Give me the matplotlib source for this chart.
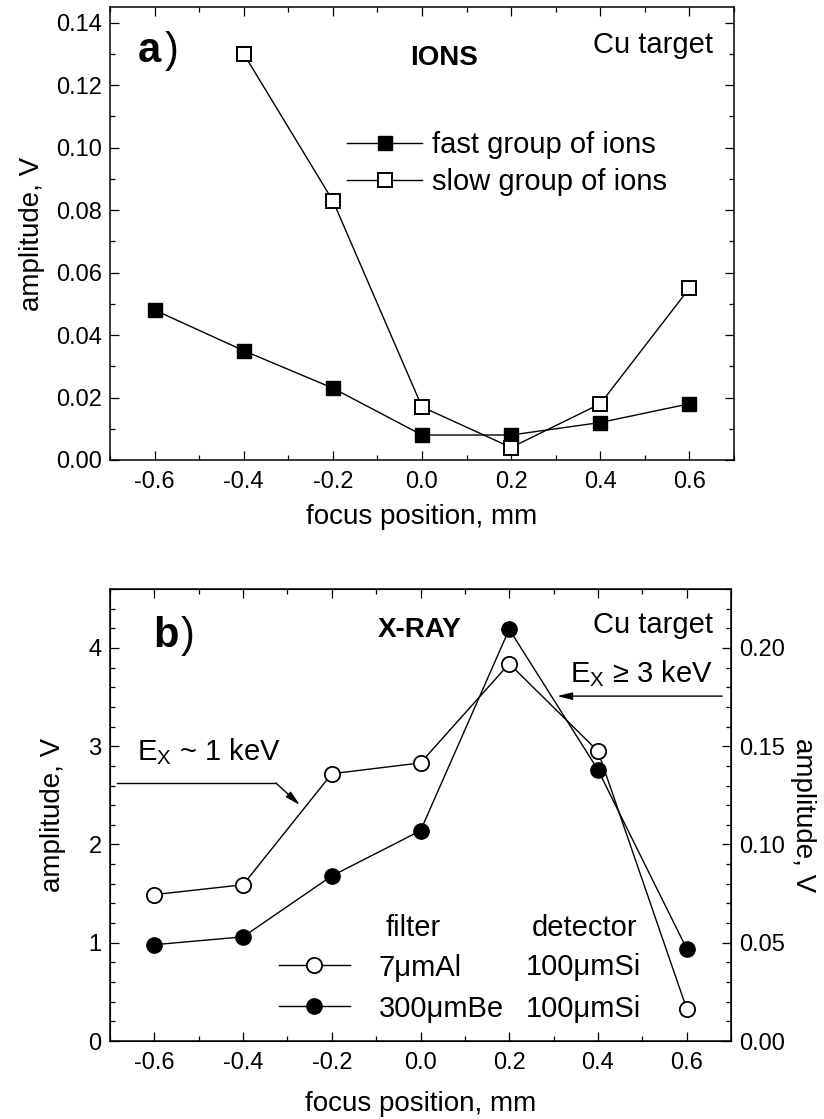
import matplotlib
matplotlib.use("Agg")
import matplotlib.pyplot as plt
from matplotlib.ticker import MultipleLocator, FormatStrFormatter

plt.rcParams['font.family'] = ['Liberation Sans', 'DejaVu Sans']
plt.rcParams['mathtext.fontset'] = 'custom'
plt.rcParams['mathtext.rm'] = 'Liberation Sans'
plt.rcParams['axes.unicode_minus'] = False

# panel a) ions
focus = [-0.6, -0.4, -0.2, 0.0, 0.2, 0.4, 0.6]
fast_ions = [0.048, 0.035, 0.023, 0.008, 0.008, 0.012, 0.018]
focus_slow = [-0.4, -0.2, 0.0, 0.2, 0.4, 0.6]
slow_ions = [0.130, 0.083, 0.017, 0.004, 0.018, 0.055]

# panel b) x-ray (left scale, V)
xray_al = [1.49, 1.59, 2.72, 2.83, 3.84, 2.95, 0.33]
xray_be = [0.98, 1.06, 1.68, 2.14, 4.19, 2.76, 0.94]

TXT = 21
TICK = 17


def style_axis(ax, top=True, right=True):
    ax.tick_params(which='both', direction='in', top=top, right=right,
                   labelsize=TICK, width=0.9)
    ax.tick_params(which='major', length=6.5)
    ax.tick_params(which='minor', length=3.3)
    ax.tick_params(axis='x', pad=8)
    ax.tick_params(axis='y', pad=6)
    for s in ax.spines.values():
        s.set_linewidth(1.1)


fig = plt.figure(figsize=(8.24, 11.19), dpi=100)

# ---------- a) ----------
ax1 = fig.add_axes([110/824, (1119-460)/1119, 624/824, 453/1119])
ax1.plot(focus, fast_ions, 'k-', lw=1, marker='s', ms=10, mfc='k', mec='k',
         label='fast group of ions')
ax1.plot(focus_slow, slow_ions, 'k-', lw=1, marker='s', ms=10, mfc='white',
         mec='k', mew=1.4, label='slow group of ions')
ax1.set_xlim(-0.7, 0.7)
ax1.set_ylim(0, 0.145)
ax1.xaxis.set_major_locator(MultipleLocator(0.2))
ax1.xaxis.set_minor_locator(MultipleLocator(0.1))
ax1.yaxis.set_major_locator(MultipleLocator(0.02))
ax1.yaxis.set_minor_locator(MultipleLocator(0.01))
ax1.xaxis.set_major_formatter(FormatStrFormatter('%.1f'))
ax1.yaxis.set_major_formatter(FormatStrFormatter('%.2f'))
style_axis(ax1)
ax1.set_xlabel('focus position, mm', fontsize=20, labelpad=8)
ax1.set_ylabel('amplitude, V', fontsize=20, labelpad=8)

ax1.text(-0.637, 0.1273, 'a', fontsize=30, fontweight='bold')
ax1.text(-0.578, 0.1273, ')', fontsize=30)
ax1.text(-0.027, 0.1263, 'IONS', fontsize=20, fontweight='bold')
ax1.text(0.653, 0.1302, 'Cu target', fontsize=TXT, ha='right')

ax1.legend(loc='center left', bbox_to_anchor=(0.38, 0.6545), frameon=False,
           fontsize=TXT, handlelength=2.57, handletextpad=0.34,
           labelspacing=0.3, borderpad=0, borderaxespad=0, numpoints=1)

# ---------- b) ----------
ax2 = fig.add_axes([110/824, (1119-1041)/1119, 621/824, 452/1119])
h_al, = ax2.plot(focus, xray_al, 'k-', lw=1, marker='o', ms=11, mfc='white',
                 mec='k', mew=1.3, label='7\u03bcmAl')
h_be, = ax2.plot(focus, xray_be, 'k-', lw=1, marker='o', ms=11, mfc='k',
                 mec='k', label='300\u03bcmBe')
ax2.set_xlim(-0.7, 0.7)
ax2.set_ylim(0, 4.6)
ax2.xaxis.set_major_locator(MultipleLocator(0.2))
ax2.xaxis.set_minor_locator(MultipleLocator(0.1))
ax2.yaxis.set_major_locator(MultipleLocator(1))
ax2.yaxis.set_minor_locator(MultipleLocator(0.2))
ax2.xaxis.set_major_formatter(FormatStrFormatter('%.1f'))
style_axis(ax2, right=False)
ax2.set_xlabel('focus position, mm', fontsize=20, labelpad=12)
ax2.set_ylabel('amplitude, V', fontsize=20, labelpad=16)

ax2r = ax2.twinx()
ax2r.set_ylim(0, 0.23)
ax2r.yaxis.set_major_locator(MultipleLocator(0.05))
ax2r.yaxis.set_minor_locator(MultipleLocator(0.01))
ax2r.yaxis.set_major_formatter(FormatStrFormatter('%.2f'))
ax2r.tick_params(which='both', direction='in', labelsize=TICK, width=0.9, pad=6)
ax2r.tick_params(which='major', length=6.5)
ax2r.tick_params(which='minor', length=3.3)
ax2r.set_ylabel('amplitude, V', fontsize=20, rotation=270, labelpad=22)

ax2.text(-0.603, 4.01, 'b', fontsize=30, fontweight='bold')
ax2.text(-0.540, 4.01, ')', fontsize=30)
ax2.text(-0.096, 4.11, 'X-RAY', fontsize=20, fontweight='bold')
ax2.text(0.659, 4.15, 'Cu target', fontsize=TXT, ha='right')

ax2.text(0.659, 3.654, 'E$_\\mathregular{X}$ \u2265 3 keV', fontsize=TXT, ha='right')
ax2.annotate('', xy=(0.308, 3.51), xytext=(0.680, 3.51),
             arrowprops=dict(arrowstyle='-|>,head_length=0.9,head_width=0.22',
                             color='k', lw=1, shrinkA=0, shrinkB=0))

ax2.text(-0.639, 2.86, 'E$_\\mathregular{X}$ ~ 1 keV', fontsize=TXT)
ax2.plot([-0.684, -0.326], [2.626, 2.626], 'k-', lw=1)
ax2.annotate('', xy=(-0.272, 2.402), xytext=(-0.326, 2.626),
             arrowprops=dict(arrowstyle='-|>,head_length=0.9,head_width=0.22',
                             color='k', lw=1, shrinkA=0, shrinkB=0))

# filter / detector table
ax2.legend(handles=[h_al, h_be], loc='center left',
           bbox_to_anchor=(0.272, 0.117), frameon=False, fontsize=TXT,
           handlelength=2.43, handletextpad=1.0, labelspacing=0.45,
           borderpad=0, borderaxespad=0, numpoints=1)
ax2.text(-0.078, 1.15, 'filter', fontsize=TXT, va='center')
ax2.text(0.251, 1.15, 'detector', fontsize=TXT, va='center')
ax2.text(0.238, 0.753, '100\u03bcmSi', fontsize=TXT, va='center')
ax2.text(0.238, 0.326, '100\u03bcmSi', fontsize=TXT, va='center')

fig.savefig('out.png', dpi=100)
